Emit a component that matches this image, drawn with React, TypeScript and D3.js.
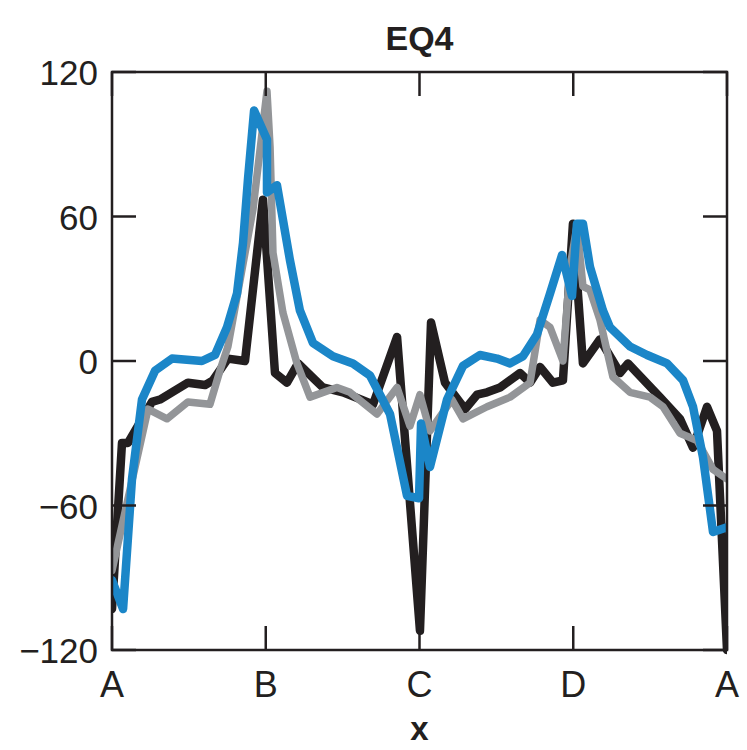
import React from "react";
import * as d3 from "d3";

const title = "EQ4";
const xLabel = "x";
const kLabels = ["A", "B", "C", "D", "A"];
const kPositions = [0, 1, 2, 3, 4];
const yTicks = [-120, -60, 0, 60, 120];
const yTickLabels = ["\u2212120", "\u221260", "0", "60", "120"];

// path coordinate (A=0, B=1, C=2, D=3, A=4)
const blackK = [0, 0.065, 0.104, 0.26, 0.312, 0.494, 0.605, 0.657, 0.754, 0.865, 0.982, 1.06, 1.138, 1.21, 1.372, 1.502, 1.698, 1.854, 2.003, 2.075, 2.166, 2.296, 2.374, 2.439, 2.524, 2.654, 2.719, 2.784, 2.868, 2.933, 2.998, 3.063, 3.174, 3.304, 3.356, 3.564, 3.694, 3.779, 3.87, 3.935, 4.0];
const blackV = [-103, -34, -34, -17, -16, -9, -10, -8, 1, 0, 67, -5, -9, -1, -11, -13, -18, 10, -112, 16, -9, -20, -14, -13, -11, -5, -9, -2.5, -9, -8, 57, -1, 9, -5, -1, -15, -24, -36, -19, -29, -120];

const grayK = [0, 0.234, 0.358, 0.494, 0.637, 0.702, 0.754, 0.917, 1.008, 1.028, 1.047, 1.112, 1.203, 1.288, 1.463, 1.548, 1.724, 1.854, 1.938, 2.003, 2.068, 2.211, 2.283, 2.439, 2.589, 2.719, 2.784, 2.849, 2.933, 2.979, 3.024, 3.063, 3.109, 3.174, 3.258, 3.369, 3.499, 3.584, 3.694, 3.805, 3.909, 4.0];
const grayV = [-87, -20, -24, -17, -18, -4, 6, 63, 112, 89, 45, 20, -1, -15, -11, -13, -22, -11, -27, -14, -29, -16, -24, -19, -15, -9, 17, 14, 0, 39, 56, 31, 29.5, 17, -6.6, -13, -15, -19, -30, -33, -45, -49];

const blueK = [0, 0.072, 0.13, 0.195, 0.28, 0.39, 0.585, 0.67, 0.748, 0.813, 0.852, 0.885, 0.924, 1.008, 1.008, 1.073, 1.157, 1.222, 1.307, 1.437, 1.567, 1.678, 1.808, 1.919, 1.997, 2.01, 2.068, 2.179, 2.283, 2.393, 2.504, 2.589, 2.673, 2.764, 2.849, 2.927, 2.992, 3.024, 3.063, 3.109, 3.193, 3.239, 3.369, 3.48, 3.61, 3.714, 3.779, 3.844, 3.909, 4.0];
const blueV = [-91, -103, -49, -16, -4, 1, 0, 2.5, 14, 28, 49, 76, 104, 92, 70, 73, 42, 21, 7.5, 2, -1, -6, -22, -56, -57, -26, -44, -16, -2, 2.5, 1, -1, 2, 11, 28, 44, 27, 57, 57, 39, 21, 14, 6, 2.5, -1, -8, -19, -40, -71, -69];

const W = 747;
const H = 750;
const M = { left: 112, right: 727, top: 72, bottom: 650 };

export default function App() {
  const x = d3.scaleLinear().domain([0, 4]).range([M.left, M.right]);
  const y = d3.scaleLinear().domain([-120, 120]).range([M.bottom, M.top]);
  const line = d3
    .line<[number, number]>()
    .x((d) => x(d[0]))
    .y((d) => y(d[1]));
  const mk = (k: number[], v: number[]) => k.map((kk, i) => [kk, v[i]] as [number, number]);
  const series = [
    { data: mk(blackK, blackV), color: "#231f20", w: 8.5 },
    { data: mk(grayK, grayV), color: "#939598", w: 7.5 },
    { data: mk(blueK, blueV), color: "#1b86c8", w: 8.5 },
  ];
  const tickLen = 24;
  const axisColor = "#231f20";
  const font = "'Liberation Sans', Arial, sans-serif";
  return (
    <svg
      width={W}
      height={H}
      style={{ position: "absolute", left: 0, top: 0, background: "#fff" }}
    >
      <defs>
        <clipPath id="plotclip">
          <rect x={M.left} y={M.top - 6} width={M.right - M.left} height={M.bottom - M.top + 12} />
        </clipPath>
      </defs>
      <g clipPath="url(#plotclip)">
        {series.map((s, i) => (
          <path
            key={i}
            d={line(s.data) || ""}
            fill="none"
            stroke={s.color}
            strokeWidth={s.w}
            strokeLinejoin="round"
            strokeLinecap="round"
          />
        ))}
      </g>
      <rect
        x={M.left}
        y={M.top}
        width={M.right - M.left}
        height={M.bottom - M.top}
        fill="none"
        stroke={axisColor}
        strokeWidth={2.5}
      />
      {kPositions.map((k, i) => (
        <g key={"xt" + i}>
          <line x1={x(k)} x2={x(k)} y1={M.top} y2={M.top + tickLen} stroke={axisColor} strokeWidth={2.5} />
          <line x1={x(k)} x2={x(k)} y1={M.bottom} y2={M.bottom - tickLen} stroke={axisColor} strokeWidth={2.5} />
          <text
            x={x(k)}
            y={M.bottom + 47}
            textAnchor="middle"
            fontFamily={font}
            fontSize={36}
            fill={axisColor}
          >
            {kLabels[i]}
          </text>
        </g>
      ))}
      {yTicks.map((v, i) => (
        <g key={"yt" + i}>
          <line x1={M.left} x2={M.left + tickLen} y1={y(v)} y2={y(v)} stroke={axisColor} strokeWidth={2.5} />
          <line x1={M.right} x2={M.right - tickLen} y1={y(v)} y2={y(v)} stroke={axisColor} strokeWidth={2.5} />
          <text
            x={M.left - 14}
            y={y(v) + 13}
            textAnchor="end"
            fontFamily={font}
            fontSize={35}
            fill={axisColor}
          >
            {yTickLabels[i]}
          </text>
        </g>
      ))}
      <text
        x={(M.left + M.right) / 2}
        y={50}
        textAnchor="middle"
        fontFamily={font}
        fontWeight="bold"
        fontSize={34}
        fill={axisColor}
      >
        {title}
      </text>
      <text
        x={(M.left + M.right) / 2}
        y={740}
        textAnchor="middle"
        fontFamily={font}
        fontWeight="bold"
        fontSize={33}
        fill={axisColor}
      >
        {xLabel}
      </text>
    </svg>
  );
}
